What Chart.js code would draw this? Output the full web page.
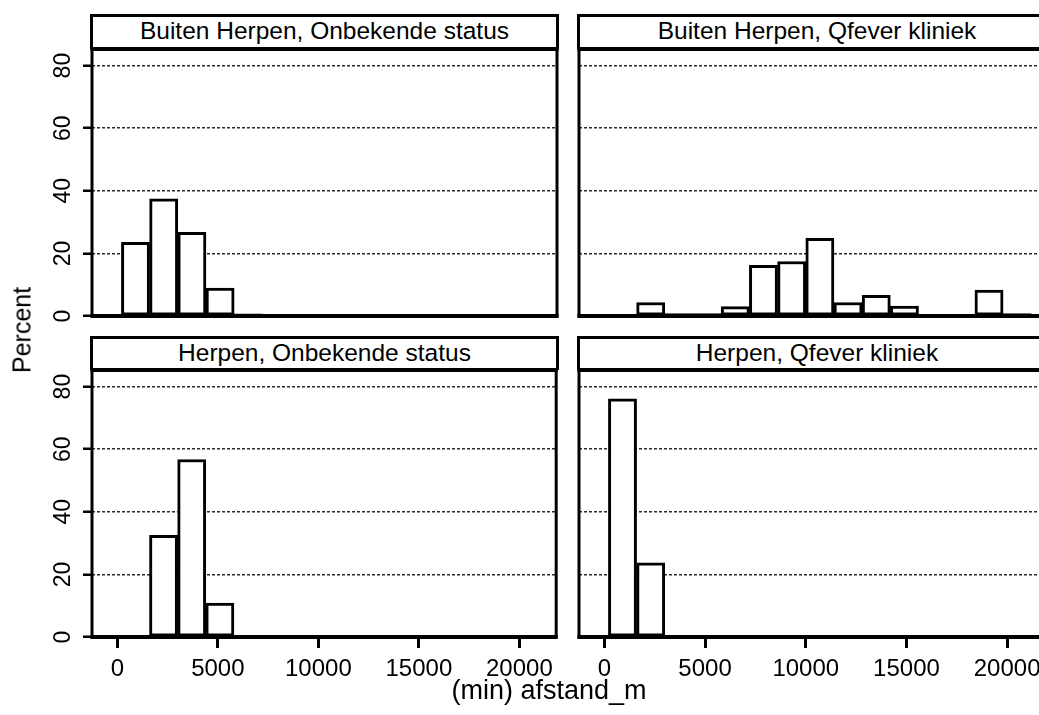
<!DOCTYPE html>
<html>
<head>
<meta charset="utf-8">
<script src="https://cdn.jsdelivr.net/npm/chart.js@4.4.0/dist/chart.umd.min.js"></script>
<style>
  body { margin: 0; width: 1039px; height: 715px; overflow: hidden; background: #fff; position: relative;
         font-family: "Liberation Sans", Arial, sans-serif; color: #000; }
  canvas { position: absolute; }
  .strip { position: absolute; box-sizing: border-box; border: 3px solid #000; border-bottom: none;
           text-align: center; font-size: 24.5px; line-height: 28px; white-space: nowrap; overflow: hidden; }
  .title { position: absolute; font-size: 25px; white-space: nowrap; }
</style>
</head>
<body>

<div class="strip" id="h1" style="left:90px; top:14px; width:469px; height:35px;"></div>
<div class="strip" id="h2" style="left:577px; top:14px; width:480px; height:35px;"></div>
<div class="strip" id="h3" style="left:90px; top:336px; width:469px; height:34px;"></div>
<div class="strip" id="h4" style="left:577px; top:336px; width:480px; height:34px;"></div>

<canvas id="c1" width="560" height="330" style="left:0; top:0;"></canvas>
<canvas id="c2" width="490" height="330" style="left:560px; top:0;"></canvas>
<canvas id="c3" width="560" height="385" style="left:0; top:330px;"></canvas>
<canvas id="c4" width="490" height="385" style="left:560px; top:330px;"></canvas>

<div class="title" id="ytitle" style="left:22px; top:330px; transform:translate(-50%,-50%) rotate(-90deg);"></div>
<div class="title" id="xtitle" style="left:549px; top:690px; font-size:27px; transform:translate(-50%,-50%);"></div>

<script>
// histogram bins (bin width 1400 m, first bin starts at 200 m)
var binCenters = [900, 2300, 3700, 5100, 6500, 7900, 9300, 10700, 12100, 13500, 14900, 16300, 17700, 19100, 20500];

var panelTitles = ["Buiten Herpen, Onbekende status", "Buiten Herpen, Qfever kliniek",
                   "Herpen, Onbekende status", "Herpen, Qfever kliniek"];

// percent per bin
var buitenOnbekend = [23.5, 37.4, 26.7, 8.9, 0.7, 0, 0, 0, 0, 0, 0, 0, 0, 0, 0];
var buitenQfever   = [0, 4.3, 0.8, 0.8, 3.0, 16.2, 17.4, 24.8, 4.3, 6.6, 3.2, 0, 0, 8.3, 0.8];
var herpenOnbekend = [0, 32.5, 56.7, 10.8, 0, 0, 0, 0, 0, 0, 0, 0, 0, 0, 0];
var herpenQfever   = [76.1, 23.7, 0, 0, 0, 0, 0, 0, 0, 0, 0, 0, 0, 0, 0];

var xTicks = [0, 5000, 10000, 15000, 20000];
var yTicks = [0, 20, 40, 60, 80];

var X_MIN = -1260, X_MAX = 21830, Y_MAX = 85.3;
var FONT = "'Liberation Sans', Arial, sans-serif";

document.getElementById('h1').textContent = panelTitles[0];
document.getElementById('h2').textContent = panelTitles[1];
document.getElementById('h3').textContent = panelTitles[2];
document.getElementById('h4').textContent = panelTitles[3];
document.getElementById('ytitle').textContent = "Percent";
document.getElementById('xtitle').textContent = "(min) afstand_m";

// thick black frame round each plot region
var framePlugin = {
    id: 'frame',
    afterDatasetsDraw: function(chart) {
        var ctx = chart.ctx, a = chart.chartArea;
        ctx.save();
        ctx.strokeStyle = '#000';
        ctx.lineWidth = 3;
        ctx.strokeRect(a.left, a.top, a.right - a.left, a.bottom - a.top);
        ctx.lineWidth = 4;
        ctx.beginPath();
        ctx.moveTo(a.left - 1.5, a.top); ctx.lineTo(a.right + 1.5, a.top);
        ctx.moveTo(a.left - 1.5, a.bottom); ctx.lineTo(a.right + 1.5, a.bottom);
        ctx.stroke();
        ctx.restore();
    }
};

function makePanel(id, values, showX, showY, padding) {
    var points = binCenters.map(function(c, i) { return {x: c, y: values[i]}; });
    return new Chart(document.getElementById(id), {
        type: 'bar',
        data: {
            datasets: [{
                data: points,
                backgroundColor: '#fff',
                borderColor: '#000',
                borderWidth: 3,
                borderSkipped: false,
                barPercentage: 1.0,
                categoryPercentage: 1.0
            }]
        },
        options: {
            responsive: false,
            animation: false,
            layout: { padding: padding },
            plugins: { legend: { display: false }, tooltip: { enabled: false } },
            scales: {
                x: {
                    type: 'linear',
                    bounds: 'data',
                    offset: false,
                    min: X_MIN,
                    max: X_MAX,
                    display: showX,
                    afterBuildTicks: function(s) { s.ticks = xTicks.map(function(v) { return {value: v}; }); },
                    afterFit: function(s) { if (showX) { s.height = 78; } },
                    ticks: {
                        autoSkip: false, maxRotation: 0, padding: 7, color: '#000',
                        font: { family: FONT, size: 24 },
                        callback: function(v) { return String(v); }
                    },
                    grid: { offset: false, drawOnChartArea: false, drawTicks: true, tickLength: 11, tickWidth: 3, tickColor: '#000' },
                    border: { display: false }
                },
                y: {
                    type: 'linear',
                    bounds: 'data',
                    min: 0,
                    max: Y_MAX,
                    afterBuildTicks: function(s) { s.ticks = yTicks.map(function(v) { return {value: v}; }); },
                    afterFit: function(s) {
                        s.width = showY ? 92 : 0;
                        s.paddingTop = 0;
                        s.paddingBottom = 0;
                    },
                    ticks: {
                        display: showY, minRotation: 90, maxRotation: 90, crossAlign: 'center',
                        padding: 7, color: '#000', font: { family: FONT, size: 23 }
                    },
                    grid: {
                        color: function(c) { return c.tick && c.tick.value === 0 ? 'rgba(0,0,0,0)' : '#2a2a2a'; },
                        lineWidth: 1.5,
                        drawTicks: showY, tickLength: 9, tickWidth: 2.5, tickColor: '#000'
                    },
                    border: { display: false, dash: [3, 2] }
                }
            }
        },
        plugins: [framePlugin]
    });
}

makePanel('c1', buitenOnbekend, false, true,  { left: 0,  top: 49, right: 3, bottom: 14 });
makePanel('c2', buitenQfever,   false, false, { left: 19, top: 49, right: 6, bottom: 14 });
makePanel('c3', herpenOnbekend, true,  true,  { left: 0,  top: 40, right: 3, bottom: 0 });
makePanel('c4', herpenQfever,   true,  false, { left: 19, top: 40, right: 6, bottom: 0 });
</script>
</body>
</html>
